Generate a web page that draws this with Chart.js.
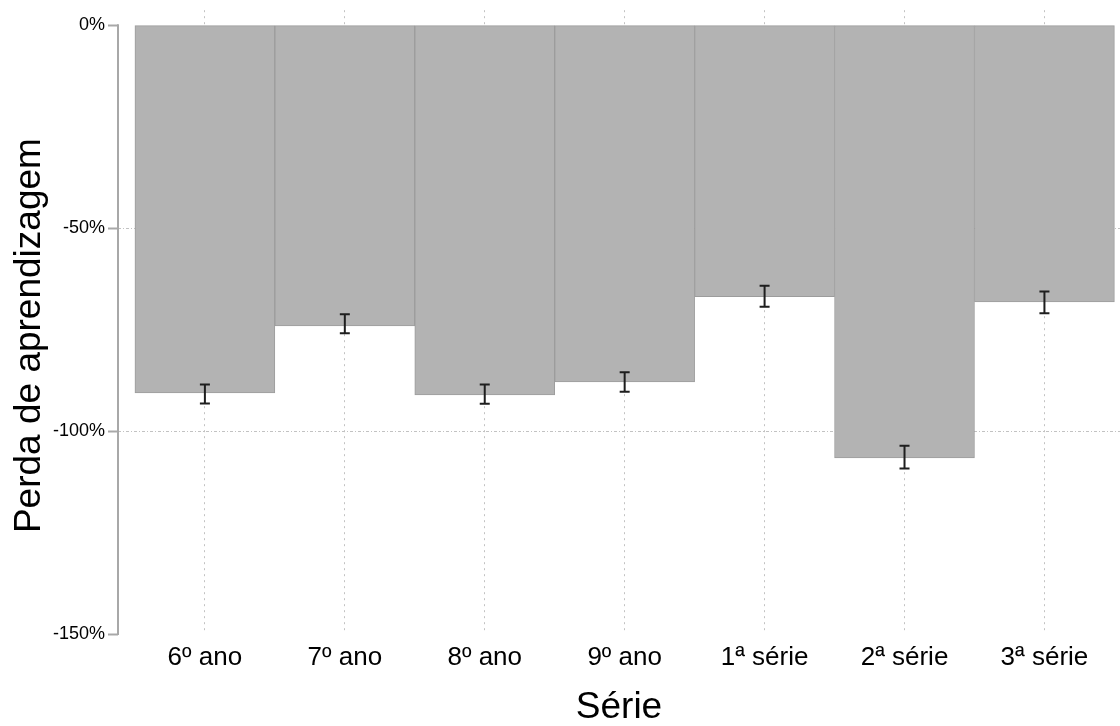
<!DOCTYPE html>
<html>
<head>
<meta charset="utf-8">
<script src="https://cdn.jsdelivr.net/npm/chart.js@4.4.1/dist/chart.umd.min.js"></script>
<style>
    html, body { margin: 0; padding: 0; background: #fff; }
    #wrap { width: 1120px; height: 726px; }
</style>
</head>
<body>
<div id="wrap"><canvas id="chart"></canvas></div>
<script>
// Data
const categories = ["6º ano", "7º ano", "8º ano", "9º ano", "1ª série", "2ª série", "3ª série"];
const positions = [1, 2, 3, 4, 5, 6, 7];
const lossValues = [-90.6, -74.1, -91.1, -87.9, -66.9, -106.6, -68.2];
const ciUpper = [-88.5, -71.2, -88.5, -85.5, -64.2, -103.6, -65.6];
const ciLower = [-93.2, -75.9, -93.3, -90.3, -69.4, -109.2, -71.0];
const yTicks = [0, -50, -100, -150];
const yTitle = "Perda de aprendizagem";

const FONT = "'Liberation Sans', Arial, sans-serif";

// y axis line only spans the tick range, like the original
const axisLinePlugin = {
    id: "axisLine",
    beforeDatasetsDraw(chart) {
        const { ctx, chartArea, scales: { y } } = chart;
        ctx.save();
        ctx.strokeStyle = "#a8a8a8";
        ctx.lineWidth = 2;
        ctx.beginPath();
        ctx.moveTo(chartArea.left, y.getPixelForValue(yTicks[0]) - 1);
        ctx.lineTo(chartArea.left, y.getPixelForValue(yTicks[yTicks.length - 1]) + 1);
        ctx.stroke();
        ctx.restore();
    },
    // y title centred on the axis line span rather than on the whole scale
    afterDraw(chart) {
        const { ctx, scales: { y } } = chart;
        const mid = (y.getPixelForValue(yTicks[0]) + y.getPixelForValue(yTicks[yTicks.length - 1])) / 2;
        ctx.save();
        ctx.translate(40, mid + 6);
        ctx.rotate(-Math.PI / 2);
        ctx.fillStyle = "#000";
        ctx.font = "37px " + FONT;
        ctx.textAlign = "center";
        ctx.textBaseline = "alphabetic";
        ctx.fillText(yTitle, 0, 0);
        ctx.restore();
    },
};

const errorBarPlugin = {
    id: "errorBars",
    afterDatasetsDraw(chart) {
        const { ctx, scales: { x, y } } = chart;
        ctx.save();
        ctx.strokeStyle = "#1e1e1e";
        ctx.lineWidth = 2;
        positions.forEach((p, i) => {
            const px = x.getPixelForValue(p);
            const top = y.getPixelForValue(ciUpper[i]);
            const bot = y.getPixelForValue(ciLower[i]);
            ctx.beginPath();
            ctx.moveTo(px, top); ctx.lineTo(px, bot);
            ctx.moveTo(px - 5, top); ctx.lineTo(px + 5, top);
            ctx.moveTo(px - 5, bot); ctx.lineTo(px + 5, bot);
            ctx.stroke();
        });
        ctx.restore();
    },
};

new Chart(document.getElementById("chart"), {
    type: "bar",
    data: {
        datasets: [{
            data: positions.map((p, i) => ({ x: p, y: lossValues[i] })),
            backgroundColor: "#b3b3b3",
            borderColor: "#9c9c9c",
            borderWidth: 1,
            borderSkipped: false,
            barPercentage: 1,
            categoryPercentage: 1,
        }],
    },
    options: {
        responsive: true,
        maintainAspectRatio: false,
        animation: false,
        layout: { padding: { top: 8, right: 0, bottom: 0, left: 0 } },
        plugins: {
            legend: { display: false },
            tooltip: { enabled: false },
        },
        scales: {
            x: {
                type: "linear",
                offset: false,
                min: 0.379,
                max: 7.54,
                afterBuildTicks: (s) => { s.ticks = positions.map((v) => ({ value: v })); },
                afterFit: (s) => { s.height = 92; },
                grid: { offset: false, color: "#c2c2c2", lineWidth: 1, drawTicks: false },
                border: { display: false, dash: [2, 4] },
                ticks: {
                    autoSkip: false,
                    maxRotation: 0,
                    padding: 8,
                    color: "#000",
                    font: { family: FONT, size: 26 },
                    callback: (v) => categories[v - 1],
                },
                title: {
                    display: true,
                    text: "Série",
                    color: "#000",
                    font: { family: FONT, size: 37, lineHeight: 1 },
                    padding: { top: 0, bottom: 0 },
                },
            },
            y: {
                min: -150,
                max: 3.69,
                afterBuildTicks: (s) => { s.ticks = yTicks.map((v) => ({ value: v })); },
                afterFit: (s) => { s.width = 118; },
                grid: {
                    // only the inner ticks get a grid line
                    color: (c) => (c.tick && (c.tick.value === 0 || c.tick.value === -150)) ? "rgba(0,0,0,0)" : "#c2c2c2",
                    lineWidth: 1,
                    tickLength: 10,
                    tickColor: "#a8a8a8",
                    tickWidth: 2,
                    tickBorderDash: [],
                },
                border: { display: false, dash: [3, 2, 1, 2] },
                ticks: {
                    padding: 3,
                    color: "#000",
                    font: { family: FONT, size: 18, lineHeight: 0.8 },
                    callback: (v) => v + "%",
                },
            },
        },
    },
    plugins: [axisLinePlugin, errorBarPlugin],
});
</script>
</body>
</html>
